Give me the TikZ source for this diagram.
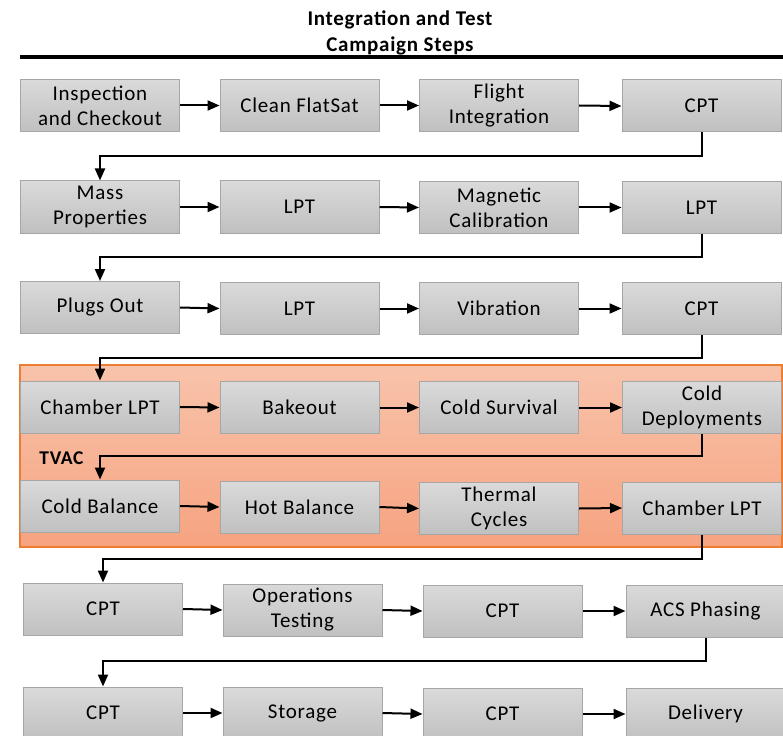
\documentclass[tikz,border=0pt]{standalone}
\usepackage{fontspec}
\setmainfont{Carlito}
\newfontfamily\spacedfont{Carlito}[LetterSpace=3.5]
\usetikzlibrary{arrows.meta,shadings}
\definecolor{boxline}{HTML}{A6A6A6}
\definecolor{boxtop}{HTML}{DADADA}
\definecolor{boxbot}{HTML}{C0C0C0}
\definecolor{tvacline}{HTML}{ED7D31}
\definecolor{tvactop}{HTML}{F8C3AB}
\definecolor{tvacbot}{HTML}{F6A380}
\begin{document}
\begin{tikzpicture}[x=1pt,y=-1pt,
  stepbox/.style={draw=boxline,line width=1pt,top color=boxtop,bottom color=boxbot,
    minimum width=159pt,minimum height=52pt,inner sep=0pt,align=center,
    font=\spacedfont\fontsize{21}{25}\selectfont},
  arr/.style={line width=2pt,-{Triangle[length=12pt,width=10pt]}},
  region/.style={draw=tvacline,line width=1.2pt,top color=tvactop,bottom color=tvacbot,
    minimum width=762pt,minimum height=182pt,inner sep=0pt},
]
\useasboundingbox (0,0) rectangle (783,735);

% title and rule
\node[align=center,font=\spacedfont\fontsize{21}{26}\selectfont\bfseries] (title) at (400,32.5) {Integration and Test\\Campaign Steps};
\coordinate (rl) at (20,57);
\coordinate (rr) at (783,57);
\draw[line width=4pt] (rl) -- (rr);

% TVAC region
\node[region] (tvac) at (401,456) {};
\node[font=\spacedfont\fontsize{19.5}{22}\selectfont\bfseries] (tvaclabel) at (61.5,458) {TVAC};

% row 1
\node[stepbox] (a1) at (100,105.5) {Inspection\\and Checkout};
\node[stepbox] (a2) at (299.5,105.5) {Clean FlatSat};
\node[stepbox] (a3) at (499,105.5) {Flight\\Integration};
\node[stepbox] (a4) at (701.5,106) {CPT};
% row 2
\node[stepbox] (b1) at (100,207) {Mass\\Properties};
\node[stepbox] (b2) at (299.5,207) {LPT};
\node[stepbox] (b3) at (499,207.5) {Magnetic\\Calibration};
\node[stepbox] (b4) at (701.5,207.5) {LPT};
% row 3
\node[stepbox] (c1) at (100,307.5) {Plugs Out};
\node[stepbox] (c2) at (299.5,308.5) {LPT};
\node[stepbox] (c3) at (499,308.5) {Vibration};
\node[stepbox] (c4) at (701.5,308.5) {CPT};
% row 4
\node[stepbox] (d1) at (100,407) {Chamber LPT};
\node[stepbox] (d2) at (299.5,407.5) {Bakeout};
\node[stepbox] (d3) at (499,407.5) {Cold Survival};
\node[stepbox] (d4) at (702,407.5) {Cold\\Deployments};
% row 5
\node[stepbox] (e1) at (100,506) {Cold Balance};
\node[stepbox] (e2) at (299.5,507) {Hot Balance};
\node[stepbox] (e3) at (499,508.5) {Thermal\\Cycles};
\node[stepbox] (e4) at (702,508) {Chamber LPT};
% row 6
\node[stepbox] (f1) at (103,609) {CPT};
\node[stepbox] (f2) at (302.5,610) {Operations\\Testing};
\node[stepbox] (f3) at (502.5,611) {CPT};
\node[stepbox] (f4) at (705.5,611) {ACS Phasing};
% row 7
\node[stepbox] (g1) at (103,713) {CPT};
\node[stepbox] (g2) at (302.5,713) {Storage};
\node[stepbox] (g3) at (502.5,714) {CPT};
\node[stepbox] (g4) at (705.5,714) {Delivery};

% horizontal arrows
\foreach \r in {a,b,c,d,e,f,g}{
  \draw[arr] (\r1.east) -- (\r2.west);
  \draw[arr] (\r2.east) -- (\r3.west);
  \draw[arr] (\r3.east) -- (\r4.west);
}

% elbow connectors
\coordinate (y1) at (0,156);
\coordinate (y2) at (0,257);
\coordinate (y3) at (0,358);
\coordinate (y4) at (0,456);
\coordinate (y5) at (0,559);
\coordinate (y6) at (0,661);
\draw[arr] (a4.south) -- (a4.south |- y1) -| (b1.north);
\draw[arr] (b4.south) -- (b4.south |- y2) -| (c1.north);
\draw[arr] (c4.south) -- (c4.south |- y3) -| (d1.north);
\draw[arr] (d4.south) -- (d4.south |- y4) -| (e1.north);
\draw[arr] (e4.south) -- (e4.south |- y5) -| (f1.north);
\draw[arr] (f4.south) -- (f4.south |- y6) -| (g1.north);
\end{tikzpicture}
\end{document}
